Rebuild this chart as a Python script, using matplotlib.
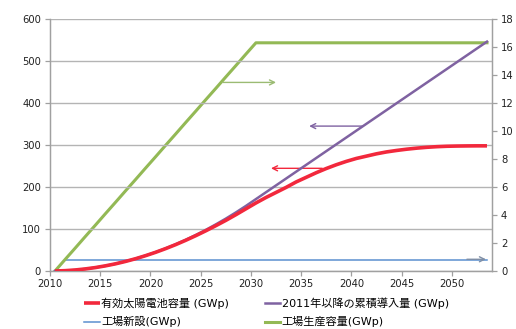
import matplotlib
matplotlib.use("Agg")
import matplotlib.pyplot as plt
import numpy as np

plt.rcParams['font.family'] = ['DejaVu Sans', 'Noto Sans CJK JP']

years = list(range(2010, 2054))

# 工場生産容量 (GWp, right axis)
factory_capacity = [0, 0.82, 1.63, 2.45, 3.26, 4.08, 4.89, 5.71, 6.52, 7.34, 8.15,
                    8.97, 9.78, 10.6, 11.41, 12.23, 13.04, 13.86, 14.67, 15.49, 16.3,
                    16.3, 16.3, 16.3, 16.3, 16.3, 16.3, 16.3, 16.3, 16.3, 16.3,
                    16.3, 16.3, 16.3, 16.3, 16.3, 16.3, 16.3, 16.3, 16.3, 16.3,
                    16.3, 16.3, 16.3]

# 工場新設 (GWp, right axis) from 2011
new_factory = [None] + [0.82] * 43

# 2011年以降の累積導入量 (GWp, left axis)
cumulative = [0, 0.8, 2.4, 4.9, 8.2, 12.2, 17.1, 22.8, 29.3, 36.7, 44.8,
              53.8, 63.6, 74.2, 85.6, 97.8, 110.9, 124.7, 139.4, 154.9, 171.2,
              187.5, 203.8, 220.1, 236.4, 252.7, 269.0, 285.3, 301.6, 317.9, 334.2,
              350.5, 366.8, 383.1, 399.4, 415.7, 432.0, 448.3, 464.6, 480.9, 497.2,
              513.5, 529.8, 546.1]

# 有効太陽電池容量 (GWp, left axis)
effective = [0, 0.8, 2.4, 4.9, 8.1, 12.2, 17.0, 22.7, 29.1, 36.4, 44.4,
             53.2, 62.7, 73.0, 84.0, 95.6, 107.8, 120.5, 134.0, 148.0, 162.0,
             175.0, 187.0, 199.0, 212.0, 223.0, 234.0, 244.0, 253.0, 261.0, 268.0,
             273.5, 279.0, 283.5, 287.0, 290.0, 292.5, 294.5, 296.0, 297.0, 297.5,
             297.8, 298.0, 298.0]

labels = ['有効太陽電池容量 (GWp)', '2011年以降の累積導入量 (GWp)', '工場新設(GWp)', '工場生産容量(GWp)']
c_red = '#f2283c'
c_purple = '#7f62a1'
c_blue = '#5b8fcf'
c_green = '#93b955'

x = np.arange(len(years))

fig = plt.figure(figsize=(5.16, 3.29), dpi=100)
ax = fig.add_axes([50/516, 1-271/329, (492-50)/516, (271-19)/329])
ax2 = ax.twinx()

ax.set_zorder(2)
ax.patch.set_visible(False)

l1, = ax.plot(x, effective, color=c_red, lw=2.6, solid_capstyle='butt', zorder=5)
l2, = ax.plot(x, cumulative, color=c_purple, lw=1.8, zorder=4)
bx = [xi for xi, v in zip(x, new_factory) if v is not None]
bv = [v for v in new_factory if v is not None]
l3, = ax2.plot(bx, bv, color=c_blue, lw=1.1)
l4, = ax2.plot(x, factory_capacity, color=c_green, lw=2.2)

ax.set_ylim(0, 600)
ax.set_yticks(range(0, 601, 100))
ax2.set_ylim(0, 18)
ax2.set_yticks(range(0, 19, 2))
ax.set_xlim(-0.5, len(years) - 0.5)

tick_pos = [i - 0.5 for i, y in enumerate(years) if y % 5 == 0]
tick_lab = [str(y) for y in years if y % 5 == 0]
ax.set_xticks(tick_pos)
ax.set_xticklabels(tick_lab)

grid_c = '#b4b4b4'
ax.grid(axis='y', color=grid_c, lw=1.0)
ax.set_axisbelow(True)
for a in (ax, ax2):
    a.spines['top'].set_visible(False)
    for s in ('left', 'right', 'bottom'):
        a.spines[s].set_color('#a0a0a0')
        a.spines[s].set_linewidth(0.9)
    a.tick_params(colors='#a0a0a0', labelcolor='#222222', labelsize=7.2, length=3.5, width=0.9)
ax.tick_params(axis='x', pad=2)
ax.tick_params(axis='y', pad=3)
ax2.tick_params(axis='y', pad=3)

# direction arrows
def arrow(x0, x1, y, color):
    ax.annotate('', xy=(x1, y), xytext=(x0, y),
                arrowprops=dict(arrowstyle='->', color=color, lw=1.0, shrinkA=0, shrinkB=0,
                                mutation_scale=9))

arrow(16.7, 22.0, 449, '#9bbb73')
arrow(30.6, 25.3, 345, c_purple)
arrow(26.6, 21.5, 244.5, c_red)
arrow(41.0, 42.9, 27.9, '#7f8fa6')

fig.legend([l1, l3, l2, l4], [labels[0], labels[2], labels[1], labels[3]],
           ncol=2, loc='upper left',
           bbox_to_anchor=(84/516, 1-297/329), frameon=False, fontsize=8,
           handlelength=1.4, handletextpad=0.15, columnspacing=3.2,
           labelspacing=0.7, borderaxespad=0, borderpad=0)

fig.savefig('out.png', dpi=100)
